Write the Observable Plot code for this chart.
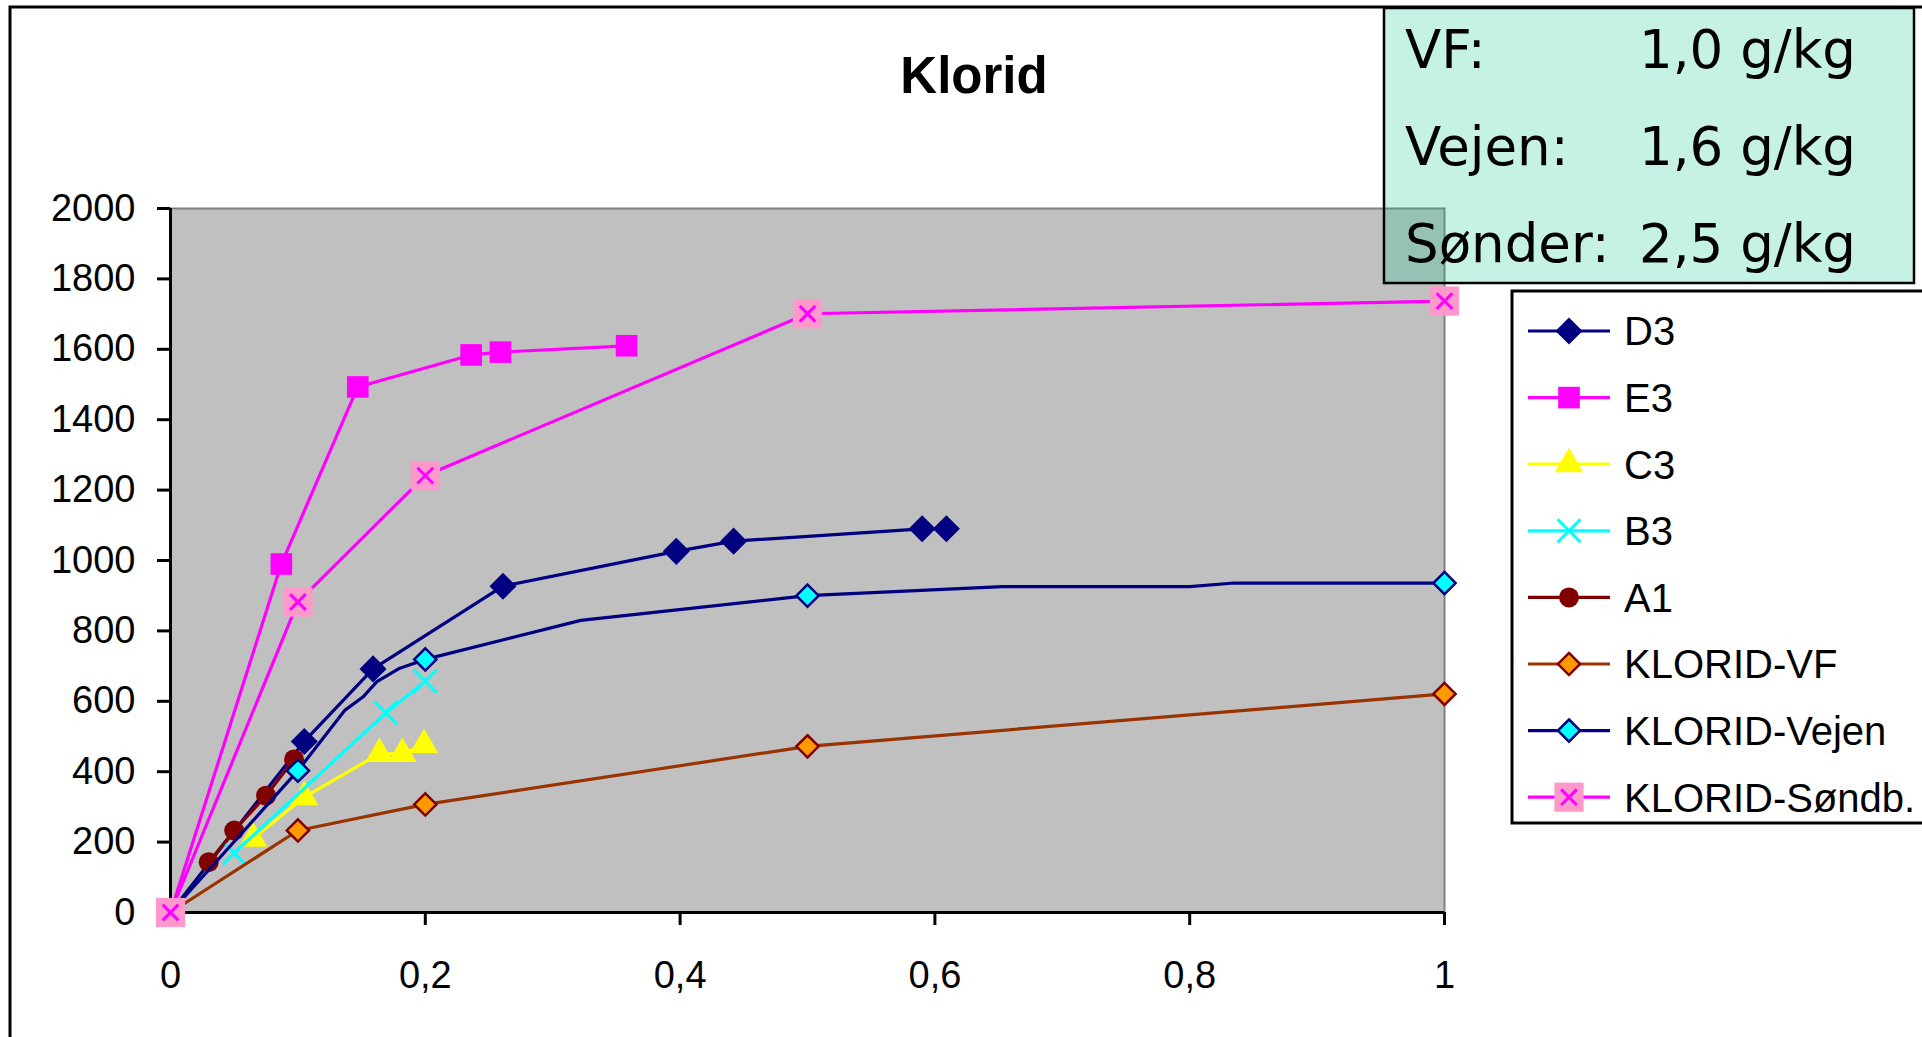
<!DOCTYPE html>
<html>
<head>
<meta charset="utf-8">
<script src="https://cdn.jsdelivr.net/npm/d3@7"></script>
<script src="https://cdn.jsdelivr.net/npm/@observablehq/plot@0.6"></script>
<style>
  html, body { margin: 0; padding: 0; background: #ffffff; }
  #chart svg { display: block; }
</style>
</head>
<body>
<div id="chart"></div>
<script>
// Chloride content versus depth for the test cores and the three reference profiles.

const chartTitle = "Klorid";
const xTicks = [0, 0.2, 0.4, 0.6, 0.8, 1];
const yTicks = [0, 200, 400, 600, 800, 1000, 1200, 1400, 1600, 1800, 2000];

const seriesNames = ["D3", "E3", "C3", "B3", "A1", "KLORID-VF", "KLORID-Vejen", "KLORID-Søndb."];

const d3X = [0, 0.105, 0.159, 0.261, 0.397, 0.442, 0.590, 0.609];
const d3Y = [0, 486, 692, 927, 1026, 1055, 1090, 1090];

const e3X = [0, 0.087, 0.147, 0.236, 0.259, 0.358];
const e3Y = [0, 990, 1493, 1584, 1592, 1610];

const c3X = [0.065, 0.105, 0.164, 0.182, 0.199];
const c3Y = [210, 328, 451, 451, 476];

const b3X = [0.05, 0.169, 0.2];
const b3Y = [169, 567, 657];

const a1X = [0.03, 0.05, 0.075, 0.097];
const a1Y = [143, 233, 332, 435];

const vfX = [0, 0.1, 0.2, 0.5, 1.0];
const vfY = [0, 233, 307, 472, 621];

// Reference curve for the road: traced vertices, markers only on the measured depths
const vejenX = [0, 0.1, 0.137, 0.151, 0.162, 0.18, 0.2, 0.322, 0.5, 0.653, 0.8, 0.835, 1.0];
const vejenY = [0, 403, 575, 612, 656, 694, 719, 830, 900, 926, 926, 936, 936];
const vejenMarkX = [0, 0.1, 0.2, 0.5, 1.0];
const vejenMarkY = [0, 403, 719, 900, 936];

const sondbX = [0, 0.1, 0.2, 0.5, 1.0];
const sondbY = [0, 882, 1241, 1701, 1737];

const infoLabels = ["VF:", "Vejen:", "Sønder:"];
const infoValues = ["1,0 g/kg", "1,6 g/kg", "2,5 g/kg"];

// ---- tables built from the arrays above ----
const rows = (xs, ys) => xs.map((x, i) => ({x, y: ys[i]}));
const series = [
  {name: "D3", line: rows(d3X, d3Y), marks: rows(d3X, d3Y)},
  {name: "E3", line: rows(e3X, e3Y), marks: rows(e3X, e3Y)},
  {name: "C3", line: rows(c3X, c3Y), marks: rows(c3X, c3Y)},
  {name: "B3", line: rows(b3X, b3Y), marks: rows(b3X, b3Y)},
  {name: "A1", line: rows(a1X, a1Y), marks: rows(a1X, a1Y)},
  {name: "KLORID-VF", line: rows(vfX, vfY), marks: rows(vfX, vfY)},
  {name: "KLORID-Vejen", line: rows(vejenX, vejenY), marks: rows(vejenMarkX, vejenMarkY)},
  {name: "KLORID-Søndb.", line: rows(sondbX, sondbY), marks: rows(sondbX, sondbY)}
];

// ---- appearance ----
const styles = {
  "D3":            {line: "#000080", symbol: "diamond2", r: 12.2, fill: "#000080", stroke: "none", sw: 0},
  "E3":            {line: "#FF00FF", symbol: "square",   r: 12.2, fill: "#FF00FF", stroke: "none", sw: 0},
  "C3":            {line: "#FFFF00", symbol: "triangle", r: 10.5, fill: "#FFFF00", stroke: "none", sw: 0},
  "B3":            {line: "#00FFFF", symbol: "times",    r: 10.5, fill: "none",    stroke: "#00FFFF", sw: 3},
  "A1":            {line: "#800000", symbol: "circle",   r: 10,   fill: "#800000", stroke: "none", sw: 0},
  "KLORID-VF":     {line: "#993300", symbol: "diamond2", r: 10,   fill: "#FF9900", stroke: "#800000", sw: 2.5},
  "KLORID-Vejen":  {line: "#000080", symbol: "diamond2", r: 10,   fill: "#00FFFF", stroke: "#000080", sw: 2.5},
  "KLORID-Søndb.": {line: "#FF00FF", symbol: "square",   r: 16.5, fill: "#FF99CC", stroke: "none", sw: 0,
                    inner: {symbol: "times", r: 7.2, fill: "none", stroke: "#FF00FF", sw: 3}}
};
const font = "'Liberation Sans', Arial, sans-serif";
const commaFormat = d => String(d).replace(".", ",");

const dotMark = (data, st) => Plot.dot(data, {
  x: "x", y: "y", symbol: st.symbol, r: st.r,
  fill: st.fill, stroke: st.stroke, strokeWidth: st.sw
});

const seriesMarks = series.flatMap(s => {
  const st = styles[s.name];
  const out = [
    Plot.line(s.line, {x: "x", y: "y", stroke: st.line, strokeWidth: 3.2, strokeLinejoin: "round"}),
    dotMark(s.marks, st)
  ];
  if (st.inner) out.push(dotMark(s.marks, st.inner));
  return out;
});

const svg = Plot.plot({
  width: 1922,
  height: 1037,
  marginLeft: 170,
  marginRight: 478,
  marginTop: 208,
  marginBottom: 125,
  style: {fontFamily: font, color: "black", background: "transparent"},
  x: {domain: [0, 1], label: null},
  y: {domain: [0, 2000], label: null},
  marks: [
    Plot.frame({fill: "#C0C0C0", stroke: "#808080", strokeWidth: 2}),
    Plot.axisY(yTicks, {tickSize: 13, tickPadding: 22, fontSize: 38, strokeWidth: 3, tickFormat: d => String(d), label: null}),
    Plot.axisX(xTicks, {tickSize: 13, tickPadding: 36, fontSize: 38, strokeWidth: 3, tickFormat: commaFormat, label: null}),
    Plot.ruleX([0], {stroke: "black", strokeWidth: 3}),
    Plot.ruleY([0], {stroke: "black", strokeWidth: 3}),
    ...seriesMarks
  ]
});

document.getElementById("chart").appendChild(svg);
const root = d3.select(svg);

// chart border
root.append("rect")
  .attr("x", 10).attr("y", 7).attr("width", 1940).attr("height", 1060)
  .attr("fill", "none").attr("stroke", "black").attr("stroke-width", 3);

// title
root.append("text")
  .attr("x", 974).attr("y", 93)
  .attr("text-anchor", "middle")
  .attr("font-family", font).attr("font-weight", "bold").attr("font-size", 51)
  .attr("fill", "black")
  .text(chartTitle);

// legend
const symbolTypes = {
  diamond2: d3.symbolDiamond2, square: d3.symbolSquare, triangle: d3.symbolTriangle,
  circle: d3.symbolCircle, times: d3.symbolTimes
};
const symbolPath = st => d3.symbol(symbolTypes[st.symbol], Math.PI * st.r * st.r)();
const legend = root.append("g");
legend.append("rect")
  .attr("x", 1512).attr("y", 291).attr("width", 440).attr("height", 532)
  .attr("fill", "white").attr("stroke", "black").attr("stroke-width", 3);
seriesNames.forEach((name, i) => {
  const st = styles[name];
  const cy = 331 + i * 66.6;
  const g = legend.append("g");
  g.append("line")
    .attr("x1", 1528).attr("x2", 1610).attr("y1", cy).attr("y2", cy)
    .attr("stroke", st.line).attr("stroke-width", 3.2);
  const drawSym = s => g.append("path")
    .attr("transform", `translate(1569,${cy})`)
    .attr("d", symbolPath(s))
    .attr("fill", s.fill).attr("stroke", s.stroke).attr("stroke-width", s.sw);
  drawSym(st);
  if (st.inner) drawSym(st.inner);
  g.append("text")
    .attr("x", 1624).attr("y", cy).attr("dy", "0.36em")
    .attr("text-anchor", "start")
    .attr("font-family", font).attr("font-size", 40).attr("fill", "black")
    .text(name);
});

// note box with the applied salt doses
const info = root.append("g");
info.append("rect")
  .attr("x", 1384).attr("y", 8).attr("width", 530).attr("height", 275)
  .attr("fill", "rgb(17,201,151)").attr("fill-opacity", 0.24)
  .attr("stroke", "black").attr("stroke-width", 2.5);
infoLabels.forEach((lab, i) => {
  const y = 68 + i * 97;
  info.append("text")
    .attr("x", 1405).attr("y", y)
    .attr("text-anchor", "start")
    .attr("font-family", "'DejaVu Sans', Verdana, sans-serif").attr("font-size", 53).attr("fill", "black")
    .text(lab);
  info.append("text")
    .attr("x", 1639).attr("y", y)
    .attr("text-anchor", "start")
    .attr("font-family", "'DejaVu Sans', Verdana, sans-serif").attr("font-size", 53).attr("fill", "black")
    .text(infoValues[i]);
});
</script>
</body>
</html>
